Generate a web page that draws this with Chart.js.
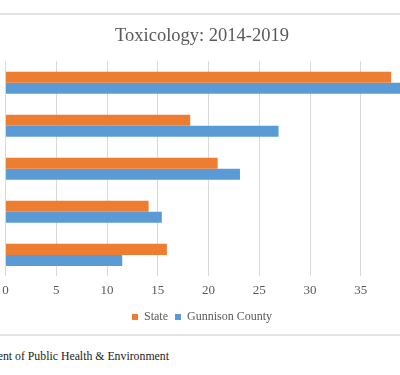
<!DOCTYPE html>
<html>
<head>
<meta charset="utf-8">
<script src="https://cdn.jsdelivr.net/npm/chart.js@4"></script>
<style>
  html, body { margin: 0; padding: 0; width: 400px; height: 375px; overflow: hidden; background: #fff; }
  #wrap { position: absolute; left: -8px; top: 0; width: 432px; height: 333px; }
  .rule { position: absolute; left: 0; width: 400px; height: 2px; background: #e3e3e3; }
  #footer { position: absolute; right: 231px; top: 349px; white-space: nowrap;
            font-family: "Liberation Serif", "DejaVu Serif", serif; font-size: 11.8px; color: #1a1a1a; }
</style>
</head>
<body>
<div class="rule" style="top:13px"></div>
<div id="wrap"><canvas id="c"></canvas></div>
<div class="rule" style="top:334px"></div>
<div id="footer">Source: Colorado Department of Public Health &amp; Environment</div>
<script>
// Category names are cut off in the reference (outside the visible crop)
const categories = ["Category 1", "Category 2", "Category 3", "Category 4", "Category 5"];
const stateValues = [38.0, 18.2, 20.9, 14.1, 15.9];
const gunnisonValues = [39.7, 26.9, 23.1, 15.4, 11.5];
const xTicks = [0, 5, 10, 15, 20, 25, 30, 35, 40];

const serif = "'Liberation Serif', 'DejaVu Serif', serif";
const grey = '#595959';

new Chart(document.getElementById('c'), {
  type: 'bar',
  data: {
    labels: categories,
    datasets: [
      { label: 'State', data: stateValues, backgroundColor: '#ED7D31', borderWidth: 0,
        categoryPercentage: 0.512, barPercentage: 1.0 },
      { label: 'Gunnison County', data: gunnisonValues, backgroundColor: '#5B9BD5', borderWidth: 0,
        categoryPercentage: 0.512, barPercentage: 1.0 }
    ]
  },
  options: {
    indexAxis: 'y',
    responsive: true,
    maintainAspectRatio: false,
    animation: false,
    devicePixelRatio: 1,
    layout: { padding: { left: 0, right: 12, top: 0, bottom: 0 } },
    scales: {
      x: {
        min: xTicks[0],
        max: xTicks[xTicks.length - 1],
        afterBuildTicks: (s) => { s.ticks = xTicks.map(v => ({ value: v })); },
        grid: { color: '#d9d9d9', lineWidth: 1, drawTicks: false },
        border: { display: false },
        ticks: { color: grey, padding: 6, font: { family: serif, size: 13 } }
      },
      y: {
        grid: { display: false },
        border: { display: false },
        ticks: { display: false },
        afterFit: (s) => { s.width = 13.5; }
      }
    },
    plugins: {
      title: {
        display: true,
        text: 'Toxicology: 2014-2019',
        color: grey,
        font: { family: serif, size: 18.5, weight: 'normal' },
        padding: { top: 25, bottom: 14 }
      },
      legend: {
        position: 'bottom',
        labels: {
          color: grey,
          boxWidth: 6, boxHeight: 6,
          padding: 7,
          font: { family: serif, size: 12 }
        }
      },
      tooltip: { enabled: false }
    }
  }
});
</script>
</body>
</html>
